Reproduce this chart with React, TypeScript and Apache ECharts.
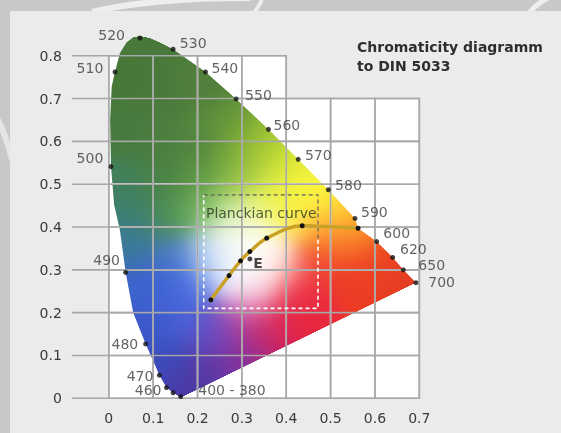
import React, { useEffect, useRef } from 'react';
import * as echarts from 'echarts';

// ---------- data ----------
const xTicks = [0, 0.1, 0.2, 0.3, 0.4, 0.5, 0.6, 0.7];
const yTicks = [0, 0.1, 0.2, 0.3, 0.4, 0.5, 0.6, 0.7, 0.8];

// spectral locus dots (wavelength marks)
const wlNames = ['400 - 380', '450', '460', '470', '480', '490', '500', '510', '520', '530', '540', '550', '560', '570', '580', '590', '600', '620', '650', '700'];
const wlX = [0.162, 0.145, 0.13, 0.114, 0.083, 0.038, 0.005, 0.014, 0.0703, 0.145, 0.218, 0.287, 0.36, 0.427, 0.495, 0.555, 0.604, 0.64, 0.664, 0.6925];
const wlY = [0.004, 0.013, 0.025, 0.054, 0.127, 0.294, 0.541, 0.762, 0.841, 0.815, 0.762, 0.699, 0.628, 0.558, 0.487, 0.42, 0.366, 0.329, 0.3, 0.27];

// outline of the coloured area (spectral locus, closed by the purple line)
const locusX = [0.163, 0.145, 0.13, 0.114, 0.099, 0.083, 0.055, 0.038, 0.025, 0.012, 0.005, 0.003, 0.0065, 0.014, 0.025, 0.04, 0.055, 0.0703, 0.093, 0.115, 0.145, 0.218, 0.287, 0.36, 0.427, 0.495, 0.555, 0.562, 0.604, 0.64, 0.664, 0.6925];
const locusY = [0.002, 0.013, 0.025, 0.054, 0.09, 0.127, 0.2, 0.294, 0.393, 0.452, 0.541, 0.65, 0.728, 0.762, 0.806, 0.831, 0.843, 0.846, 0.841, 0.831, 0.815, 0.762, 0.699, 0.628, 0.558, 0.487, 0.42, 0.397, 0.366, 0.329, 0.3, 0.27];

// Planckian curve points
const planckX = [0.23, 0.271, 0.297, 0.318, 0.356, 0.436, 0.562];
const planckY = [0.23, 0.2865, 0.321, 0.3425, 0.374, 0.403, 0.397];

// equal-energy point E
const pointE = [0.318, 0.3255];

// dashed frame round the Planckian curve
const frameX = [0.214, 0.4716];
const frameY = [0.21, 0.475];
const frameSplitY = 0.37;

const titleLines = ['Chromaticity diagramm', 'to DIN 5033'];
const planckLabel = 'Planckian curve';
const planckLabelAt = [0.219, 0.432];

// ---------- styles ----------
const FONT = '"DejaVu Sans", Verdana, sans-serif';
const GRID_LEFT_EXTENT = -0.083;
const GRID_COLOR = '#a8a8a8';
const GRID_W = 1.6;

// side, gap (px from dot centre to text), vertical shift (px)
const labelLayout: Record<string, [string, number, number]> = {
  '400 - 380': ['right', 17.6, -6.7],
  '460': ['left', 5, 2.3],
  '470': ['left', 6, 0.7],
  '480': ['left', 7.4, 0],
  '490': ['left', 5.7, -12.3],
  '500': ['left', 7.7, -8.4],
  '510': ['left', 11.7, -4],
  '520': ['left', 15, -3.3],
  '530': ['right', 6.7, -6.6],
  '540': ['right', 6, -4],
  '550': ['right', 9, -4],
  '560': ['right', 5, -4.3],
  '570': ['right', 6.7, -4.3],
  '580': ['right', 6.7, -5],
  '590': ['right', 6, -6.6],
  '600': ['right', 6.6, -8.4],
  '620': ['right', 7.3, -8.4],
  '650': ['right', 15, -5],
  '700': ['right', 12.3, -1],
};

// colour anchors for the painted field (x, y, colour)
const fieldAnchors: Array<[number, number, string]> = [
  // greens
  [0.02, 0.75, '#477838'], [0.07, 0.82, '#48793a'], [0.12, 0.72, '#4a7a3b'],
  [0.04, 0.62, '#477a3e'], [0.12, 0.6, '#4b7e3e'], [0.2, 0.72, '#517f3c'],
  [0.19, 0.6, '#528640'], [0.26, 0.64, '#62923a'], [0.27, 0.55, '#6c9e3c'],
  [0.32, 0.6, '#8cb834'], [0.37, 0.56, '#c0da32'], [0.33, 0.54, '#a8cc3c'],
  [0.12, 0.5, '#4a8244'], [0.2, 0.5, '#5a9444'], [0.29, 0.49, '#a0cc52'],
  [0.04, 0.5, '#41805a'], [0.05, 0.43, '#3c7e72'], [0.06, 0.36, '#3a78a0'],
  [0.12, 0.42, '#4a8a58'], [0.18, 0.43, '#5ea458'], [0.23, 0.44, '#8cc868'],
  [0.27, 0.42, '#d0eca8'],
  // yellows / oranges
  [0.42, 0.52, '#eeef3a'], [0.47, 0.47, '#fdfa3c'], [0.42, 0.47, '#f8f53e'],
  [0.37, 0.49, '#e6f044'], [0.34, 0.44, '#eef67a'], [0.38, 0.43, '#fcf85a'],
  [0.52, 0.44, '#ffe83a'], [0.55, 0.41, '#ffb830'], [0.31, 0.41, '#f8fac8'],
  [0.44, 0.41, '#ffd850'], [0.5, 0.4, '#ffa430'],
  // reds
  [0.56, 0.37, '#f66024'], [0.5, 0.36, '#f46028'], [0.62, 0.32, '#ec4424'],
  [0.67, 0.28, '#e43c22'], [0.55, 0.28, '#ec3c24'], [0.46, 0.31, '#f03c30'],
  [0.42, 0.25, '#ec2c44'], [0.38, 0.2, '#e0204e'], [0.33, 0.16, '#c0266a'],
  [0.44, 0.22, '#e8283c'],
  // purples / blues
  [0.28, 0.11, '#88309c'], [0.22, 0.07, '#5c38a4'], [0.17, 0.03, '#4838a4'],
  [0.13, 0.08, '#3c4cbc'], [0.1, 0.16, '#3c58c8'], [0.08, 0.26, '#3c62cc'],
  [0.14, 0.26, '#4262d8'], [0.18, 0.2, '#4866da'], [0.22, 0.15, '#5050c8'],
  [0.26, 0.17, '#8a48bc'], [0.2, 0.27, '#4a72e2'], [0.15, 0.33, '#4a78c8'],
  [0.3, 0.21, '#d868b4'], [0.34, 0.25, '#f8b8d0'], [0.39, 0.3, '#ffc0b0'],
  // white centre
  [0.31, 0.32, '#ffffff'], [0.28, 0.31, '#ffffff'], [0.33, 0.35, '#ffffff'],
  [0.3, 0.29, '#ffffff'], [0.34, 0.31, '#ffffff'], [0.29, 0.35, '#ffffff'],
  [0.26, 0.33, '#f4f8ff'], [0.36, 0.33, '#fff8f4'], [0.32, 0.27, '#fff4f8'],
  [0.245, 0.3, '#b0cbf8'], [0.22, 0.34, '#90b8f0'], [0.27, 0.37, '#f0faf0'],
  [0.31, 0.38, '#fcfdf0'],
];
const SIGMA = 0.038;
const anchorRGB = fieldAnchors.map(([x, y, c]) => [
  x, y,
  parseInt(c.slice(1, 3), 16), parseInt(c.slice(3, 5), 16), parseInt(c.slice(5, 7), 16),
]);
function fieldColor(x: number, y: number): string {
  let r = 0, g = 0, b = 0, ws = 1e-30;
  for (const a of anchorRGB) {
    const dx = x - a[0], dy = y - a[1];
    const w = Math.exp(-(dx * dx + dy * dy) / (2 * SIGMA * SIGMA));
    r += w * a[2]; g += w * a[3]; b += w * a[4]; ws += w;
  }
  return `rgb(${Math.round(r / ws)},${Math.round(g / ws)},${Math.round(b / ws)})`;
}

// white plotting area, grid bars, then the painted field with gaps at the grid lines
function renderBackdrop(_params: any, api: any) {
  const children: any[] = [];
  const maxTopX = 0.4;
  const poly = [[0, 0], [0.7, 0], [0.7, 0.7], [maxTopX, 0.7], [maxTopX, 0.8], [0, 0.8]].map((p) => api.coord(p));
  children.push({ type: 'polygon', shape: { points: poly }, style: { fill: '#ffffff' } });

  const o = api.coord([0, 0]);
  const e = api.coord([0.7, 0.8]);
  const hLines = yTicks.map((y) => ({ py: api.coord([0, y])[1], x1: api.coord([GRID_LEFT_EXTENT, y])[0], x2: api.coord([y >= 0.8 ? 0.4 : 0.7, y])[0] }));
  const vLines = xTicks.map((x) => ({ px: api.coord([x, 0])[0], top: api.coord([x, x <= 0.4 ? 0.8 : 0.7])[1], bot: o[1] }));
  hLines.forEach((h) => {
    children.push({ type: 'rect', shape: { x: h.x1, y: h.py - GRID_W / 2, width: h.x2 - h.x1 + GRID_W / 2, height: GRID_W }, style: { fill: GRID_COLOR } });
  });
  vLines.forEach((v) => {
    children.push({ type: 'rect', shape: { x: v.px - GRID_W / 2, y: v.top - GRID_W / 2, width: GRID_W, height: v.bot - v.top + GRID_W / 2 }, style: { fill: GRID_COLOR } });
  });

  const pts = locusX.map((x, i) => api.coord([x, locusY[i]]));
  const kx = 0.7 / (e[0] - o[0]);
  const ky = 0.8 / (e[1] - o[1]);
  let minY = Infinity, maxY = -Infinity;
  pts.forEach((p: number[]) => { minY = Math.min(minY, p[1]); maxY = Math.max(maxY, p[1]); });
  for (let yp = Math.floor(minY); yp < Math.ceil(maxY); yp++) {
    const yc = yp + 0.5;
    let hCov = 0;
    hLines.forEach((h) => {
      const ov = Math.min(yp + 1, h.py + GRID_W / 2) - Math.max(yp, h.py - GRID_W / 2);
      if (ov > hCov) hCov = ov;
    });
    if (hCov > 0.55) continue;
    const xs: number[] = [];
    for (let i = 0; i < pts.length; i++) {
      const a = pts[i], b = pts[(i + 1) % pts.length];
      if ((a[1] <= yc && b[1] > yc) || (b[1] <= yc && a[1] > yc)) {
        const t = (yc - a[1]) / (b[1] - a[1]);
        xs.push(a[0] + t * (b[0] - a[0]));
      }
    }
    xs.sort((p, q) => p - q);
    const bands = vLines
      .filter((v) => yc >= v.top && yc <= v.bot)
      .map((v) => [v.px - GRID_W / 2, v.px + GRID_W / 2]);
    for (let k = 0; k + 1 < xs.length; k += 2) {
      let segs: number[][] = [[xs[k], xs[k + 1]]];
      bands.forEach(([l, r]) => {
        const next: number[][] = [];
        segs.forEach(([s0, s1]) => {
          if (r <= s0 || l >= s1) { next.push([s0, s1]); return; }
          if (l > s0) next.push([s0, l]);
          if (r < s1) next.push([r, s1]);
        });
        segs = next;
      });
      segs.forEach(([x0, x1]) => {
        const w = x1 - x0;
        if (w < 0.2) return;
        const n = Math.max(2, Math.ceil(w / 4) + 1);
        const stops: any[] = [];
        for (let j = 0; j < n; j++) {
          const f = j / (n - 1);
          const px = x0 + f * w;
          stops.push({ offset: f, color: fieldColor((px - o[0]) * kx, (yc - o[1]) * ky) });
        }
        children.push({
          type: 'rect',
          shape: { x: x0, y: yp, width: w, height: 1 },
          style: { fill: new echarts.graphic.LinearGradient(0, 0, 1, 0, stops) },
        });
      });
    }
  }
  return { type: 'group', children, silent: true };
}

const fmt = (v: number) => String(Math.round(v * 10) / 10);

export default function App() {
  const ref = useRef<HTMLDivElement>(null);
  useEffect(() => {
    if (!ref.current) return;
    const chart = echarts.init(ref.current, undefined, { renderer: 'svg' });
    const wlData = wlNames.map((n, i) => {
      const L = labelLayout[n];
      return {
        name: n,
        value: [wlX[i], wlY[i]],
        label: L
          ? { show: true, position: L[0], distance: L[1] - 2.5, offset: [0, L[2]] }
          : { show: false },
      };
    });
    // grid lines as line series on an upper layer
    const gridSeries: any[] = [];
    yTicks.forEach((y) => {
      gridSeries.push({
        type: 'line', silent: true, symbol: 'none', clip: false, zlevel: 1, z: 1,
        data: [[GRID_LEFT_EXTENT, y], [y >= 0.8 ? 0.4 : 0.7, y]],
        lineStyle: { color: GRID_COLOR, width: GRID_W, opacity: 0.85 },
      });
    });
    xTicks.forEach((x) => {
      gridSeries.push({
        type: 'line', silent: true, symbol: 'none', clip: false, zlevel: 1, z: 1,
        data: [[x, 0], [x, x <= 0.4 ? 0.8 : 0.7]],
        lineStyle: { color: GRID_COLOR, width: GRID_W, opacity: 0.85 },
      });
    });
    chart.setOption({
      animation: false,
      backgroundColor: 'transparent',
      title: {
        text: titleLines.join('\n'),
        left: 352,
        top: 32,
        textStyle: { fontFamily: FONT, fontSize: 14, fontWeight: 'bold', color: '#2e2e2e', lineHeight: 19 },
      },
      graphic: [
        { type: 'rect', z: -20, silent: true, shape: { x: 0, y: 0, width: 561, height: 433 }, style: { fill: '#c8c8c8' } },
        { type: 'bezierCurve', z: -19, silent: true, shape: { x1: 92, y1: 12, cpx1: 150, cpy1: -2, x2: 250, y2: -2 }, style: { stroke: '#f4f4f4', lineWidth: 6, fill: 'none', opacity: 0.85 } },
        { type: 'line', z: -19, silent: true, shape: { x1: 255, y1: 12, x2: 262, y2: 0 }, style: { stroke: '#f4f4f4', lineWidth: 4, opacity: 0.85 } },
        { type: 'bezierCurve', z: -19, silent: true, shape: { x1: 530, y1: 12, cpx1: 536, cpy1: 4, x2: 548, y2: -2 }, style: { stroke: '#f4f4f4', lineWidth: 5, fill: 'none', opacity: 0.85 } },
        { type: 'bezierCurve', z: -19, silent: true, shape: { x1: -2, y1: 120, cpx1: 6, cpy1: 135, x2: 12, y2: 160 }, style: { stroke: '#f0f0f0', lineWidth: 6, fill: 'none', opacity: 0.7 } },
        { type: 'rect', z: -18, silent: true, shape: { x: 10, y: 11, width: 551, height: 422 }, style: { fill: '#ebebeb' } },
      ],
      grid: { left: 108.8, right: 141.7, top: 55.7, bottom: 34.7 },
      xAxis: {
        type: 'value', min: 0, max: 0.7, interval: 0.1,
        axisLine: { show: false }, axisTick: { show: false }, splitLine: { show: false },
        axisLabel: { margin: 13, fontFamily: FONT, fontSize: 14, color: '#3a3a3a', formatter: fmt },
      },
      yAxis: {
        type: 'value', min: 0, max: 0.8, interval: 0.1,
        axisLine: { show: false }, axisTick: { show: false }, splitLine: { show: false },
        axisLabel: { margin: 47, fontFamily: FONT, fontSize: 14, color: '#3a3a3a', formatter: fmt, padding: [0, 0, 6, 0] },
      },
      series: [
        { type: 'custom', name: 'backdrop', z: 1, silent: true, clip: false, data: [[0, 0]], renderItem: renderBackdrop },
        ...gridSeries,
        {
          type: 'line', name: 'frame light', zlevel: 1, z: 4, silent: true, symbol: 'none',
          data: [[frameX[1], frameSplitY], [frameX[1], frameY[0]], [frameX[0], frameY[0]], [frameX[0], frameY[1]]],
          lineStyle: { color: '#ffffff', width: 1.6, type: [4, 3] },
        },
        {
          type: 'line', name: 'frame dark', zlevel: 1, z: 4, silent: true, symbol: 'none',
          data: [[frameX[0], frameY[1]], [frameX[1], frameY[1]], [frameX[1], frameSplitY]],
          lineStyle: { color: '#6a6a5a', width: 1.6, type: [4, 3], opacity: 0.8 },
        },
        {
          type: 'line', name: 'Planckian curve', zlevel: 1, z: 5, silent: true, smooth: 0.35,
          data: planckX.map((x, i) => [x, planckY[i]]),
          lineStyle: { color: '#c9a127', width: 3.5 },
          symbol: 'circle', symbolSize: 5, showAllSymbol: true,
          itemStyle: { color: '#111111' },
        },
        {
          type: 'scatter', name: 'wavelengths', zlevel: 1, z: 6, silent: true, clip: false,
          symbolSize: 5, itemStyle: { color: '#111111' },
          data: wlData,
          label: { formatter: '{b}', fontFamily: FONT, fontSize: 14, color: '#3c3c3c' },
        },
        {
          type: 'scatter', name: 'E', zlevel: 1, z: 6, silent: true, clip: false, symbolSize: 5, itemStyle: { color: '#111111' },
          data: [{ name: 'E', value: pointE }],
          label: { show: true, formatter: '{b}', position: 'right', distance: 1, offset: [0, 3.7], fontFamily: FONT, fontSize: 14, fontWeight: 'bold', color: '#1a1a1a' },
        },
        {
          type: 'scatter', name: 'planck label', zlevel: 1, z: 7, silent: true, clip: false, symbolSize: 0,
          data: [{ name: planckLabel, value: planckLabelAt }],
          label: { show: true, formatter: '{b}', position: 'right', distance: 0, fontFamily: FONT, fontSize: 14, color: '#2b3a22' },
        },
      ],
    });
    return () => chart.dispose();
  }, []);
  return <div ref={ref} style={{ position: 'fixed', left: 0, top: 0, width: 561, height: 433 }} />;
}
